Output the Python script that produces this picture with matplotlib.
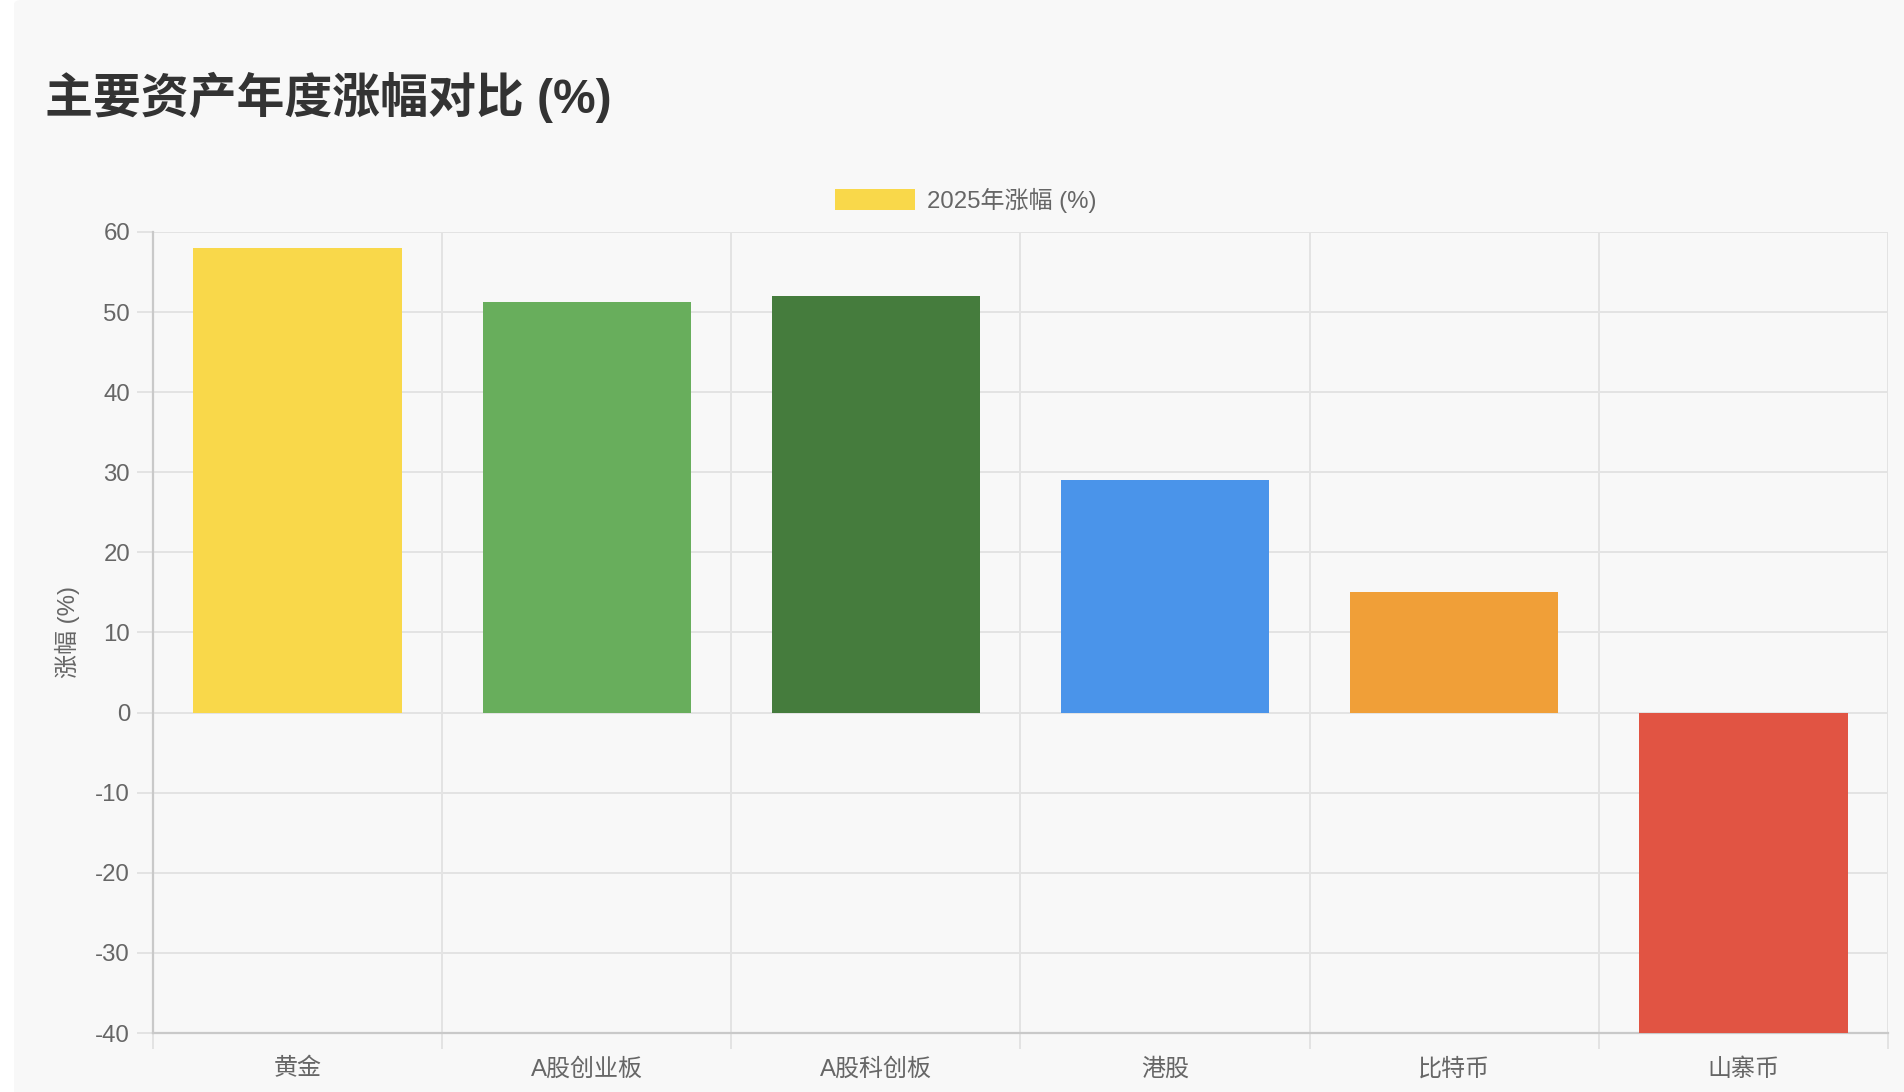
import matplotlib
matplotlib.use('Agg')
import matplotlib.pyplot as plt
from matplotlib.patches import FancyBboxPatch

plt.rcParams['font.family'] = ['Liberation Sans', 'Noto Sans CJK SC', 'DejaVu Sans']
plt.rcParams['axes.unicode_minus'] = False

# data
categories = ['黄金', 'A股创业板', 'A股科创板', '港股', '比特币', '山寨币']
gains = [58, 51.2, 52, 29, 15, -40]
series_label = '2025年涨幅 (%)'
y_ticks = [-40, -30, -20, -10, 0, 10, 20, 30, 40, 50, 60]

bar_colors = ['#F9D84A', '#68AE5C', '#457C3D', '#4A94EA', '#F09F38', '#E15443']
grid_color = '#e3e3e3'
axis_color = '#c9c9c9'
text_color = '#666666'

W, H = 1904, 1092
fig = plt.figure(figsize=(W / 100, H / 100), dpi=100, facecolor='white')

# light grey card behind the chart
card = FancyBboxPatch((14 / W, -0.05), 1.1, 1.05, boxstyle='round,pad=0,rounding_size=0.004',
                      transform=fig.transFigure, facecolor='#f8f8f8', edgecolor='none', zorder=-10)
fig.patches.append(card)

left, right, top, bottom = 153, 1888, 232, 1033
ax = fig.add_axes([left / W, 1 - bottom / H, (right - left) / W, (bottom - top) / H])
ax.set_facecolor('none')

x = list(range(len(categories)))
ax.bar(x, gains, width=0.72, color=bar_colors, linewidth=0, zorder=3, label=series_label)

ax.set_xlim(-0.5, len(categories) - 0.5)
ax.set_ylim(y_ticks[0], y_ticks[-1])
ax.set_yticks(y_ticks)
ax.set_xticks(x)
ax.set_xticklabels(categories)
ax.set_xticks([i - 0.5 for i in range(len(categories) + 1)], minor=True)

# grid lines: horizontal at y ticks, vertical at category boundaries
ax.grid(axis='y', which='major', color=grid_color, linewidth=1.4, zorder=0)
ax.grid(axis='x', which='minor', color=grid_color, linewidth=1.4, zorder=0)
ax.grid(axis='x', which='major', visible=False)

for s in ['top', 'right']:
    ax.spines[s].set_visible(False)
for s in ['left', 'bottom']:
    ax.spines[s].set_color(axis_color)
    ax.spines[s].set_linewidth(1.6)

ax.tick_params(axis='y', which='major', length=11.5, width=1.4, color=grid_color,
               labelsize=17.3, labelcolor=text_color, pad=5)
ax.tick_params(axis='x', which='major', length=0, labelsize=17.3, labelcolor=text_color, pad=18)
ax.tick_params(axis='x', which='minor', length=11.5, width=1.4, color=grid_color)

fig.text(67 / W, 1 - 632 / H, '涨幅 (%)', rotation=90, ha='center', va='center',
         fontsize=17.3, color=text_color)

fig.text(45 / W, 1 - 97 / H, '主要资产年度涨幅对比 (%)', ha='left', va='center',
         fontsize=34.5, fontweight='bold', color='#333333')

ax.legend(loc='center', bbox_to_anchor=(966 / W, 1 - 200 / H), bbox_transform=fig.transFigure,
          frameon=False, fontsize=17.3, labelcolor=text_color, handlelength=3.33,
          handleheight=1.0, handletextpad=0.5, borderpad=0)

fig.savefig('out.png', dpi=100, facecolor=fig.get_facecolor())
